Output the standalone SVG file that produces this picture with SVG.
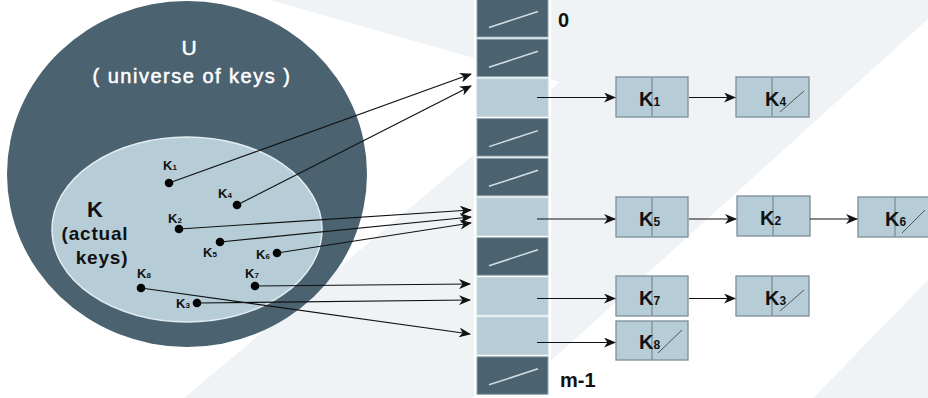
<svg xmlns="http://www.w3.org/2000/svg" width="928" height="398" viewBox="0 0 928 398">
  <defs>
    <marker id="arrow" markerWidth="12" markerHeight="10" refX="11" refY="5" orient="auto" markerUnits="userSpaceOnUse">
      <path d="M0,0 L12,5 L0,10 L3.5,5 z" fill="#111"/>
    </marker>
    <style>
      .bg{fill:#eff3f6}
      .stripe{fill:#ffffff}
      .u{fill:#4b6270}
      .k{fill:#b6cdd8;stroke:#e3ecf0;stroke-width:1.5}
      .dot{fill:#000}
      .title{font-family:"Liberation Sans",Arial,sans-serif;fill:#ffffff;stroke:#ffffff;stroke-width:0.5;text-anchor:middle}
      .klabel{font-family:"Liberation Sans",Arial,sans-serif;font-weight:bold;fill:#111;text-anchor:middle}
      .lbl{font-family:"Liberation Sans",Arial,sans-serif;font-weight:bold;font-size:13px;fill:#111}
      .sub{font-size:8px}
      .edge{stroke:#111;stroke-width:1.2;fill:none;marker-end:url(#arrow)}
      .cell-d{fill:#4b6270;stroke:#8ea3ad;stroke-width:1}
      .cell-l{fill:#b6cdd8;stroke:#c6d6dd;stroke-width:1}
      .nil{stroke:#d3dee3;stroke-width:1.5}
      .idx{font-family:"Liberation Sans",Arial,sans-serif;font-weight:bold;font-size:20px;fill:#111}
      .node rect{fill:#b6cdd8;stroke:#7d8e97;stroke-width:1.3}
      .node .div{stroke:#7d8e97;stroke-width:1.3}
      .node .slash{stroke:#555;stroke-width:1}
      .nk{font-family:"Liberation Sans",Arial,sans-serif;font-weight:bold;font-size:20px;fill:#111}
      .ns{font-size:12px}
    </style>
  </defs>

  <!-- backdrop with diagonal stripes -->
  <rect class="bg" x="0" y="0" width="928" height="398"/>
  <polygon class="stripe" points="0,0 269,0 560,82 184,398 0,398"/>
  <polygon class="stripe" points="928,19 928,280 813,398 510,398"/>

  <!-- universe of keys -->
  <g id="universe">
    <ellipse class="u" cx="187" cy="174" rx="180" ry="173"/>
    <text class="title" x="189" y="55" font-size="21">U</text>
    <text class="title" x="192" y="83" font-size="20" letter-spacing="1.5">( universe of keys )</text>
  </g>

  <!-- actual keys -->
  <g id="actual-keys">
    <ellipse class="k" cx="187" cy="229.5" rx="135" ry="92.5"/>
    <text class="klabel" x="95" y="217" font-size="22">K</text>
    <text class="klabel" x="95" y="240" font-size="19" letter-spacing="0.8">(actual</text>
    <text class="klabel" x="102" y="264" font-size="19" letter-spacing="0.8">keys)</text>
  </g>

  <!-- individual keys -->
  <g id="key-k1"><text class="lbl" x="163" y="170">K<tspan class="sub">1</tspan></text><circle class="dot" cx="169" cy="183" r="4.3"/></g>
  <g id="key-k4"><text class="lbl" x="218" y="198">K<tspan class="sub">4</tspan></text><circle class="dot" cx="237" cy="205" r="4.3"/></g>
  <g id="key-k2"><text class="lbl" x="168" y="223">K<tspan class="sub">2</tspan></text><circle class="dot" cx="179" cy="229" r="4.3"/></g>
  <g id="key-k5"><text class="lbl" x="203" y="257">K<tspan class="sub">5</tspan></text><circle class="dot" cx="220" cy="242" r="4.3"/></g>
  <g id="key-k6"><text class="lbl" x="256" y="259">K<tspan class="sub">6</tspan></text><circle class="dot" cx="277" cy="253" r="4.3"/></g>
  <g id="key-k7"><text class="lbl" x="245" y="278">K<tspan class="sub">7</tspan></text><circle class="dot" cx="255" cy="286" r="4.3"/></g>
  <g id="key-k8"><text class="lbl" x="137" y="278">K<tspan class="sub">8</tspan></text><circle class="dot" cx="141" cy="288" r="4.3"/></g>
  <g id="key-k3"><text class="lbl" x="176" y="308">K<tspan class="sub">3</tspan></text><circle class="dot" cx="197" cy="303" r="4.3"/></g>

  <!-- hash table slots -->
  <g id="table">
    <rect x="474" y="0" width="77" height="398" fill="#ffffff"/>
    <g id="slot-0"><rect class="cell-d" x="477" y="-0.5" width="71" height="37.5"/><line class="nil" x1="489" y1="27.5" x2="538" y2="11.5"/></g>
    <g id="slot-1"><rect class="cell-d" x="477" y="39.2" width="71" height="37.5"/><line class="nil" x1="489" y1="67.2" x2="538" y2="51.2"/></g>
    <g id="slot-2"><rect class="cell-l" x="477" y="78.9" width="71" height="37.5"/></g>
    <g id="slot-3"><rect class="cell-d" x="477" y="118.6" width="71" height="37.5"/><line class="nil" x1="489" y1="146.6" x2="538" y2="130.6"/></g>
    <g id="slot-4"><rect class="cell-d" x="477" y="158.3" width="71" height="37.5"/><line class="nil" x1="489" y1="186.3" x2="538" y2="170.3"/></g>
    <g id="slot-5"><rect class="cell-l" x="477" y="198" width="71" height="37.5"/></g>
    <g id="slot-6"><rect class="cell-d" x="477" y="237.7" width="71" height="37.5"/><line class="nil" x1="489" y1="265.7" x2="538" y2="249.7"/></g>
    <g id="slot-7"><rect class="cell-l" x="477" y="277.4" width="71" height="37.5"/></g>
    <g id="slot-8"><rect class="cell-l" x="477" y="317.1" width="71" height="37.5"/></g>
    <g id="slot-9"><rect class="cell-d" x="477" y="356.8" width="71" height="37.5"/><line class="nil" x1="489" y1="384.8" x2="538" y2="368.8"/></g>
    <text class="idx" x="558" y="27">0</text>
    <text class="idx" x="560" y="387">m-1</text>
  </g>

  <!-- chained list nodes -->
  <g id="node-k1" class="node"><rect x="616" y="77" width="72" height="40"/><line class="div" x1="652" y1="77" x2="652" y2="117"/><text class="nk" x="639" y="106">K<tspan class="ns">1</tspan></text></g>
  <g id="node-k4" class="node"><rect x="736" y="77" width="73" height="40"/><line class="div" x1="772" y1="77" x2="772" y2="117"/><text class="nk" x="765" y="106">K<tspan class="ns">4</tspan></text><line class="slash" x1="780" y1="112" x2="804" y2="91"/></g>
  <g id="node-k5" class="node"><rect x="616" y="197" width="72" height="40"/><line class="div" x1="652" y1="197" x2="652" y2="237"/><text class="nk" x="639" y="226">K<tspan class="ns">5</tspan></text></g>
  <g id="node-k2" class="node"><rect x="737" y="196" width="73" height="40"/><line class="div" x1="773" y1="196" x2="773" y2="236"/><text class="nk" x="760" y="225">K<tspan class="ns">2</tspan></text></g>
  <g id="node-k6" class="node"><rect x="858" y="197" width="73" height="40"/><line class="div" x1="895" y1="197" x2="895" y2="237"/><text class="nk" x="885" y="226">K<tspan class="ns">6</tspan></text><line class="slash" x1="902" y1="233" x2="925" y2="210"/></g>
  <g id="node-k7" class="node"><rect x="616" y="276" width="72" height="40"/><line class="div" x1="652" y1="276" x2="652" y2="316"/><text class="nk" x="639" y="305">K<tspan class="ns">7</tspan></text></g>
  <g id="node-k3" class="node"><rect x="736" y="276" width="73" height="40"/><line class="div" x1="772" y1="276" x2="772" y2="316"/><text class="nk" x="765" y="305">K<tspan class="ns">3</tspan></text><line class="slash" x1="780" y1="311" x2="804" y2="290"/></g>
  <g id="node-k8" class="node"><rect x="616" y="321" width="72" height="39"/><line class="div" x1="652" y1="321" x2="652" y2="360"/><text class="nk" x="639" y="349">K<tspan class="ns">8</tspan></text><line class="slash" x1="658" y1="353" x2="682" y2="330"/></g>

  <!-- connectors -->
  <g id="connectors">
    <line class="edge" x1="169" y1="183" x2="471" y2="74"/>
    <line class="edge" x1="237" y1="205" x2="471" y2="86"/>
    <line class="edge" x1="179" y1="229" x2="471" y2="210"/>
    <line class="edge" x1="220" y1="242" x2="471" y2="217"/>
    <line class="edge" x1="277" y1="253" x2="471" y2="223"/>
    <line class="edge" x1="255" y1="286" x2="470" y2="284"/>
    <line class="edge" x1="197" y1="303" x2="470" y2="300"/>
    <line class="edge" x1="141" y1="288" x2="470" y2="334"/>

    <line class="edge" x1="537" y1="97.5" x2="615" y2="97.5"/>
    <line class="edge" x1="537" y1="219" x2="615" y2="219"/>
    <line class="edge" x1="537" y1="298.5" x2="615" y2="298.5"/>
    <line class="edge" x1="537" y1="342.5" x2="615" y2="342.5"/>

    <line class="edge" x1="689" y1="97.5" x2="735" y2="97.5"/>
    <line class="edge" x1="689" y1="219" x2="736" y2="219"/>
    <line class="edge" x1="810" y1="219" x2="857" y2="219"/>
    <line class="edge" x1="689" y1="298.5" x2="735" y2="298.5"/>
  </g>
</svg>
